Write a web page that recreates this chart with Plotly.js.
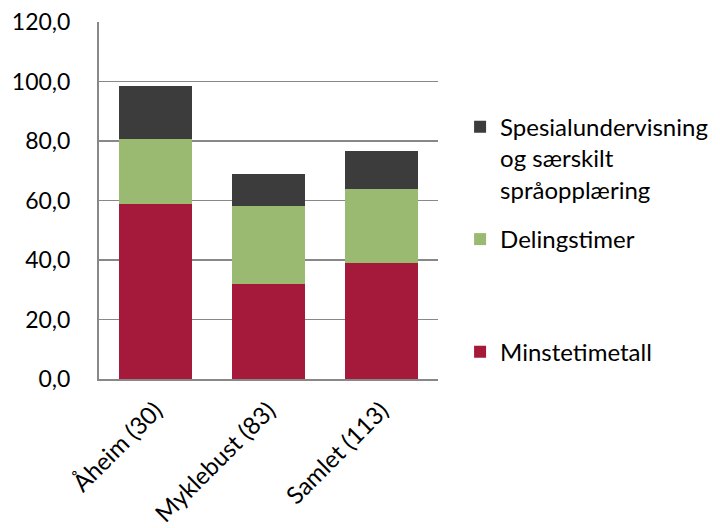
<!DOCTYPE html>
<html>
<head>
<meta charset="utf-8">
<script src="https://cdn.plot.ly/plotly-3.0.1.min.js"></script>
<style>html,body{margin:0;padding:0;background:#fff;}#chart{width:720px;height:528px;}</style>
</head>
<body>
<div id="chart"></div>
<script>
const categories = ['Åheim (30)', 'Myklebust (83)', 'Samlet (113)'];
const minstetimetall = [58.9, 32.0, 39.1];
const delingstimer = [21.8, 26.0, 24.8];
const spesialundervisning = [17.9, 10.9, 12.9];
const yTicks = [0, 20, 40, 60, 80, 100, 120];

const FONT = 'Lato, "Open Sans", sans-serif';
const traces = [
  {type: 'bar', x: categories, y: minstetimetall, name: 'Minstetimetall',
   marker: {color: '#A51A3A'}, legend: 'legend3'},
  {type: 'bar', x: categories, y: delingstimer, name: 'Delingstimer',
   marker: {color: '#9BBA71'}, legend: 'legend2'},
  {type: 'bar', x: categories, y: spesialundervisning, name: 'Spesialundervisning<br>og særskilt<br>språopplæring',
   marker: {color: '#3C3C3C'}, legend: 'legend'}
];
const legendBase = {xref: 'container', yref: 'container', xanchor: 'left', yanchor: 'top',
  x: 0.639, valign: 'top',
  font: {family: FONT, size: 24, color: '#000'}, bgcolor: 'rgba(0,0,0,0)'};
const layout = {
  width: 720, height: 528,
  margin: {l: 99, r: 282, t: 22, b: 149},
  barmode: 'stack', bargap: 0.36,
  separators: ', ',
  paper_bgcolor: '#fff', plot_bgcolor: '#fff',
  font: {family: FONT, size: 23, color: '#000'},
  xaxis: {tickangle: -45, showline: true, linecolor: '#888', linewidth: 2,
          ticks: '', tickfont: {family: FONT, size: 24, color: '#000'}, ticklabelstandoff: 6},
  yaxis: {range: [0, 120], tickvals: yTicks, tickformat: '.1f', showline: true,
          linecolor: '#888', linewidth: 2, gridcolor: '#888', gridwidth: 1.5,
          ticks: '', ticklabelstandoff: 22, zeroline: false,
          tickfont: {family: FONT, size: 23, color: '#000'}},
  showlegend: true,
  legend: Object.assign({}, legendBase, {y: 0.8017}),
  legend2: Object.assign({}, legendBase, {y: 0.589}),
  legend3: Object.assign({}, legendBase, {y: 0.3758})
};
Plotly.newPlot('chart', traces, layout, {displayModeBar: false, staticPlot: true});
</script>
</body>
</html>
